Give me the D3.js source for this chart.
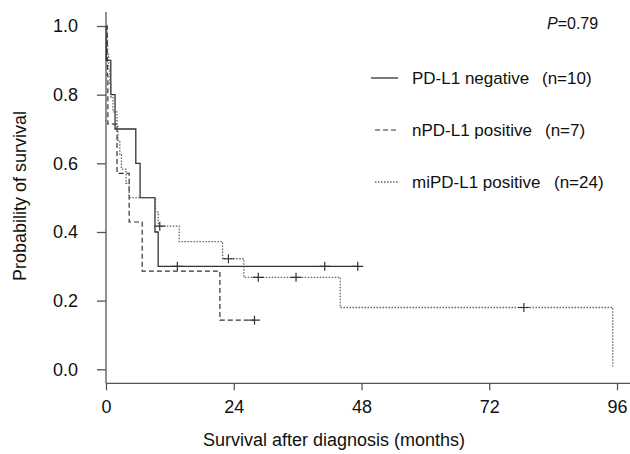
<!DOCTYPE html>
<html lang="en">
<head>
<meta charset="UTF-8" />
<title>Survival after diagnosis</title>
<script src="https://cdn.jsdelivr.net/npm/d3@7"></script>
<style>
  body { margin: 0; background: #fff; }
  svg { font-family: "Liberation Sans", Arial, sans-serif; }
</style>
</head>
<body>
<div id="chart"></div>
<script>
// step times (months) and survival after each step
const negTimes = [0, 0.05, 0.9, 1.7, 5.6, 6.4, 9.2, 9.8];
const negSurv = [1, 0.9, 0.8, 0.7, 0.6, 0.5, 0.4, 0.3];
const negCensor = [13.4, 41.1, 47.3];
const negEnd = 47.3;

const nposTimes = [0, 0.25, 0.35, 2.07, 4.35, 6.8, 21.4];
const nposSurv = [1, 0.857, 0.714, 0.571, 0.429, 0.286, 0.143];
const nposCensor = [27.9];
const nposEnd = 27.9;

const miTimes = [0, 0.15, 0.3, 0.5, 0.7, 0.95, 1.3, 2.07, 2.25, 2.6, 2.9, 3.76, 4.35, 9.3, 9.8, 13.75, 21.9, 25.9, 44.0, 95.2];
const miSurv = [1, 0.958, 0.917, 0.875, 0.833, 0.792, 0.75, 0.708, 0.667, 0.625, 0.583, 0.542, 0.5, 0.458, 0.417, 0.372, 0.322, 0.268, 0.18, 0.008];
const miCensor = [10.1, 23.0, 28.6, 35.7, 78.5];
const miEnd = 95.2;

const groupNames = ["PD-L1 negative", "nPD-L1 positive", "miPD-L1 positive"];
const groupN = ["(n=10)", "(n=7)", "(n=24)"];
const xTicks = [0, 24, 48, 72, 96];
const yTicks = [0, 0.2, 0.4, 0.6, 0.8, 1.0];
const pText = "=0.79";

const width = 630, height = 454;
const x = d3.scaleLinear([0, 96], [106, 617]);
const y = d3.scaleLinear([0, 1], [369.3, 26]);

const svg = d3.select("#chart").append("svg")
  .attr("width", width)
  .attr("height", height);

// axes
svg.append("g")
  .attr("transform", "translate(106,0)")
  .call(d3.axisLeft(y).tickValues(yTicks).tickFormat(d3.format(".1f")).tickSize(9).tickPadding(19))
  .call(g => g.select(".domain").remove())
  .call(g => g.selectAll("line").attr("stroke", "#555").attr("stroke-width", 1.3))
  .call(g => g.selectAll("text").attr("font-size", 18).attr("fill", "#111").attr("font-family", null));

svg.append("g")
  .attr("transform", "translate(0,383.3)")
  .call(d3.axisBottom(x).tickValues(xTicks).tickSize(7).tickPadding(10))
  .call(g => g.select(".domain").remove())
  .call(g => g.selectAll("line").attr("stroke", "#555").attr("stroke-width", 1.3))
  .call(g => g.selectAll("text").attr("font-size", 18).attr("fill", "#111").attr("font-family", null));

svg.append("line")
  .attr("x1", 106).attr("x2", 106).attr("y1", 12).attr("y2", 383.3)
  .attr("stroke", "#555").attr("stroke-width", 1.3);
svg.append("line")
  .attr("x1", 106).attr("x2", 630).attr("y1", 383.3).attr("y2", 383.3)
  .attr("stroke", "#555").attr("stroke-width", 1.3);

svg.append("text")
  .attr("transform", "translate(26,196) rotate(-90)")
  .attr("text-anchor", "middle")
  .attr("font-size", 18).attr("fill", "#111")
  .text("Probability of survival");

svg.append("text")
  .attr("x", 334).attr("y", 446)
  .attr("text-anchor", "middle")
  .attr("font-size", 18).attr("fill", "#111")
  .text("Survival after diagnosis (months)");

// curves
const styles = [
  { color: "#333", dash: null, width: 1.3 },
  { color: "#333", dash: "5,3", width: 1.2 },
  { color: "#666", dash: "1.5,1.5", width: 1.3 }
];
const groups = [
  [negTimes, negSurv, negCensor, negEnd],
  [nposTimes, nposSurv, nposCensor, nposEnd],
  [miTimes, miSurv, miCensor, miEnd]
];

const line = d3.line().x(d => x(d[0])).y(d => y(d[1])).curve(d3.curveStepAfter);

function survAt(times, surv, t) {
  let s = surv[0];
  for (let i = 0; i < times.length; i++) if (times[i] <= t) s = surv[i];
  return s;
}

groups.forEach((g, i) => {
  const [times, surv, censor, end] = g;
  const pts = times.map((t, j) => [t, surv[j]]);
  pts.push([end, surv[surv.length - 1]]);
  svg.append("path")
    .attr("d", line(pts))
    .attr("fill", "none")
    .attr("stroke", styles[i].color)
    .attr("stroke-width", styles[i].width)
    .attr("stroke-dasharray", styles[i].dash);

  svg.selectAll(".c" + i)
    .data(censor)
    .enter()
    .append("path")
    .attr("class", "c" + i)
    .attr("transform", d => "translate(" + x(d) + "," + y(survAt(times, surv, d)) + ")")
    .attr("d", "M-5.5,0H5.5M0,-4.5V4.5")
    .attr("stroke", "#333")
    .attr("stroke-width", 1.2);
});

// legend
const legendY = [78, 130, 182];
groupNames.forEach((name, i) => {
  svg.append("line")
    .attr("x1", i == 0 ? 371 : 375).attr("x2", 398)
    .attr("y1", legendY[i]).attr("y2", legendY[i])
    .attr("stroke", styles[i].color)
    .attr("stroke-width", styles[i].width)
    .attr("stroke-dasharray", styles[i].dash);
  svg.append("text")
    .attr("x", 412).attr("y", legendY[i] + 6)
    .attr("font-size", 17).attr("fill", "#111")
    .text(name);
  svg.append("text")
    .attr("x", [542, 545, 554][i]).attr("y", legendY[i] + 6)
    .attr("font-size", 17).attr("fill", "#111")
    .text(groupN[i]);
});

const p = svg.append("text")
  .attr("x", 547).attr("y", 29)
  .attr("font-size", 16).attr("fill", "#111");
p.append("tspan").attr("font-style", "italic").text("P");
p.append("tspan").text(pText);
</script>
</body>
</html>
